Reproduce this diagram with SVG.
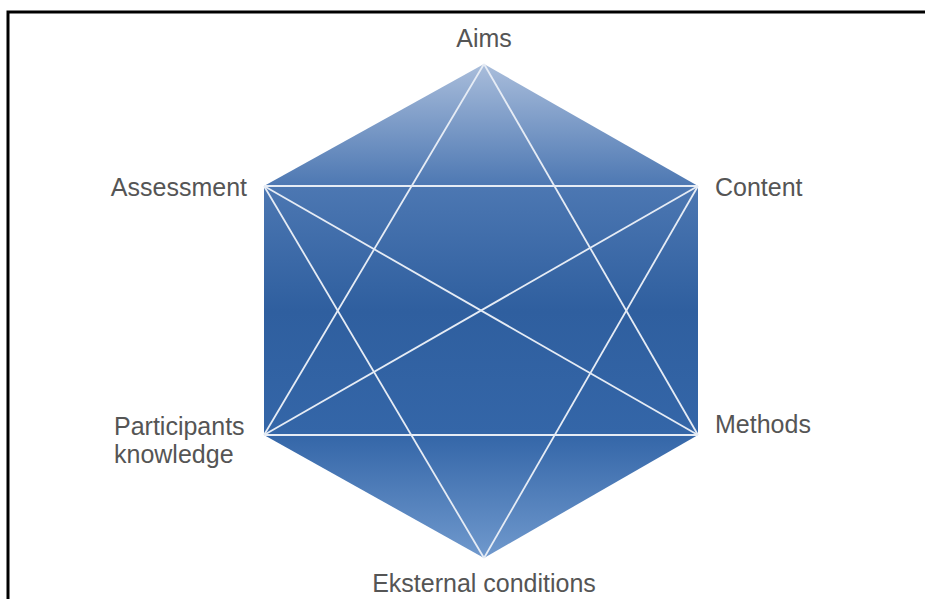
<svg xmlns="http://www.w3.org/2000/svg" width="925" height="599" viewBox="0 0 925 599">
<defs>
<linearGradient id="g" x1="0" y1="64" x2="0" y2="558" gradientUnits="userSpaceOnUse">
<stop offset="0" stop-color="#a9bddb"/>
<stop offset="0.25" stop-color="#4c77b2"/>
<stop offset="0.5" stop-color="#2f5f9f"/>
<stop offset="0.75" stop-color="#3466a8"/>
<stop offset="1" stop-color="#7099cd"/>
</linearGradient>
<style>
.lbl{font-family:"Liberation Sans",Arial,sans-serif;font-size:25px;fill:#555;}
.ln{stroke:#e6ecf5;stroke-width:1.8;fill:none;}
</style>
</defs>
<rect width="925" height="599" fill="#fff"/>
<path d="M8 599 V12 H925" fill="none" stroke="#000" stroke-width="3"/>
<g id="hexagon">
<polygon points="484,64 698,186 698,435 484,558 264,435 264,186" fill="url(#g)"/>
</g>
<g id="connectors">
<line class="ln" x1="484" y1="64" x2="264" y2="435"/>
<line class="ln" x1="484" y1="64" x2="698" y2="435"/>
<line class="ln" x1="264" y1="186" x2="698" y2="186"/>
<line class="ln" x1="264" y1="435" x2="698" y2="435"/>
<line class="ln" x1="264" y1="186" x2="698" y2="435"/>
<line class="ln" x1="698" y1="186" x2="264" y2="435"/>
<line class="ln" x1="264" y1="186" x2="484" y2="558"/>
<line class="ln" x1="698" y1="186" x2="484" y2="558"/>
</g>
<g id="aims"><text class="lbl" x="484" y="47" text-anchor="middle">Aims</text></g>
<g id="assessment"><text class="lbl" x="247" y="196" text-anchor="end">Assessment</text></g>
<g id="content"><text class="lbl" x="715" y="196">Content</text></g>
<g id="participants"><text class="lbl" x="114" y="435">Participants</text><text class="lbl" x="114" y="463">knowledge</text></g>
<g id="methods"><text class="lbl" x="715" y="433">Methods</text></g>
<g id="external"><text class="lbl" x="484" y="592" text-anchor="middle">Eksternal conditions</text></g>
</svg>
